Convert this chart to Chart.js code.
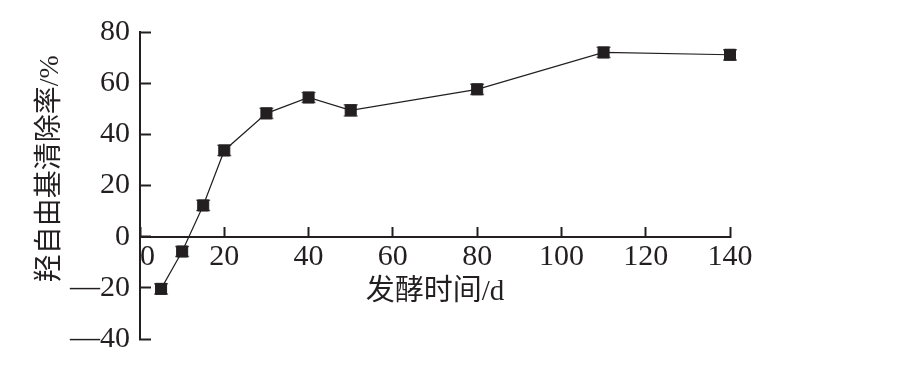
<!DOCTYPE html>
<html>
<head>
<meta charset="utf-8">
<script src="https://cdn.jsdelivr.net/npm/chart.js@4"></script>
<style>
  html, body { margin: 0; padding: 0; background: #ffffff; }
  #wrap { width: 897px; height: 372px; position: relative; }
</style>
</head>
<body>
<div id="wrap"><canvas id="c" width="897" height="372"></canvas></div>
<script>
// Data
const days = [5, 10, 15, 20, 30, 40, 50, 80, 110, 140];
const rate = [-20.4, -5.8, 12.2, 33.7, 48.2, 54.4, 49.4, 57.6, 72.0, 71.1];
const err  = [2.0, 2.0, 2.0, 2.0, 2.0, 2.0, 2.2, 2.0, 2.0, 2.0];
const xTicks = [0, 20, 40, 60, 80, 100, 120, 140];
const yTicks = [-40, -20, 0, 20, 40, 60, 80];
const xTitle = '发酵时间/d';
const yTitle = '羟自由基清除率/%';

const INK = '#231f20';
const serif = "'Liberation Serif', 'Noto Sans CJK SC', serif";

const errorBars = {
  id: 'errorBars',
  beforeDatasetsDraw(chart) {
    const ctx = chart.ctx, xs = chart.scales.x, ys = chart.scales.y;
    ctx.save();
    ctx.strokeStyle = '#6a6a6a';
    ctx.lineWidth = 1.5;
    days.forEach((d, i) => {
      const px = xs.getPixelForValue(d);
      const top = ys.getPixelForValue(rate[i] + err[i]);
      const bot = ys.getPixelForValue(rate[i] - err[i]);
      ctx.beginPath();
      ctx.moveTo(px, top); ctx.lineTo(px, bot);
      ctx.moveTo(px - 7, top); ctx.lineTo(px + 7, top);
      ctx.moveTo(px - 7, bot); ctx.lineTo(px + 7, bot);
      ctx.stroke();
    });
    ctx.restore();
  }
};

new Chart(document.getElementById('c'), {
  type: 'line',
  data: {
    datasets: [{
      data: days.map((d, i) => ({ x: d, y: rate[i] })),
      clip: false,
      borderColor: INK,
      borderWidth: 1.2,
      backgroundColor: INK,
      pointStyle: 'rect',
      pointRadius: 7.8,
      pointBorderWidth: 1,
      pointBorderColor: INK,
      pointBackgroundColor: INK,
      tension: 0
    }]
  },
  options: {
    responsive: false,
    animation: false,
    events: [],
    layout: { padding: { left: 0, right: 167, top: 32, bottom: 33 } },
    plugins: { legend: { display: false }, tooltip: { enabled: false } },
    scales: {
      x: {
        type: 'linear',
        position: { y: 0 },
        min: 0, max: 140,
        afterBuildTicks(s) { s.ticks = xTicks.map(v => ({ value: v })); },
        afterFit(s) { s.height = 75; s.paddingTop = 0; s.paddingBottom = 0; s.paddingLeft = 0; s.paddingRight = 0; },
        border: { display: true, color: INK, width: 2 },
        grid: { drawOnChartArea: false, drawTicks: true, tickLength: -11, tickWidth: 2, tickColor: INK, color: INK },
        ticks: {
          padding: 13,
          color: INK,
          font: { family: serif, size: 30 },
          maxRotation: 0,
          autoSkip: false,
          callback: v => v === 0 ? '  0' : String(v)
        },
        title: {
          display: true,
          text: xTitle,
          color: INK,
          font: { family: serif, size: 29 },
          padding: { top: 0, bottom: 2 }
        }
      },
      y: {
        type: 'linear',
        position: 'left',
        min: -40, max: 80,
        afterBuildTicks(s) { s.ticks = yTicks.map(v => ({ value: v })); },
        afterFit(s) { s.width = 140; s.paddingTop = 0; s.paddingBottom = 0; s.paddingLeft = 0; s.paddingRight = 0; },
        border: { display: true, color: INK, width: 2 },
        grid: { drawOnChartArea: false, drawTicks: true, tickLength: -11, tickWidth: 2, tickColor: INK, color: INK },
        ticks: {
          padding: 21,
          color: INK,
          font: { family: serif, size: 30 },
          autoSkip: false,
          callback: v => v < 0 ? '—' + Math.abs(v) : String(v)
        },
        title: {
          display: true,
          text: '\u3000\u2009' + yTitle,
          color: INK,
          font: { family: serif, size: 28 },
          padding: { top: 34, bottom: 0 }
        }
      }
    }
  },
  plugins: [errorBars]
});
</script>
</body>
</html>
